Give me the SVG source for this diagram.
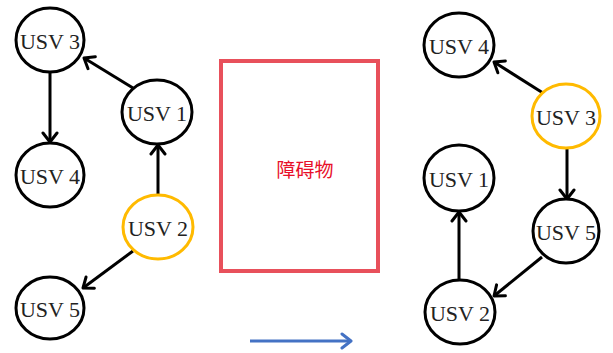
<svg xmlns="http://www.w3.org/2000/svg" width="613" height="353" viewBox="0 0 613 353">
<style>
.n{fill:#fff;stroke:#000;stroke-width:3}
.y{fill:#fff;stroke:#FFBA00;stroke-width:3}
.t{font-family:"Liberation Serif","DejaVu Serif",serif;font-size:22px;fill:#222;text-anchor:middle;dominant-baseline:central}
.e{stroke:#000;stroke-width:3;fill:none;marker-end:url(#ah)}
</style>
<defs>
<marker id="ah" markerUnits="userSpaceOnUse" viewBox="-12 -9 14 18" refX="0" refY="0" markerWidth="14" markerHeight="18" orient="auto">
<path d="M-9,-7 L0,0 L-9,7" fill="none" stroke="#000" stroke-width="3" stroke-linecap="round" stroke-linejoin="round"/>
</marker>
<marker id="bh" markerUnits="userSpaceOnUse" viewBox="-12 -9 14 18" refX="0" refY="0" markerWidth="14" markerHeight="18" orient="auto">
<path d="M-9,-7 L0,0 L-9,7" fill="none" stroke="#4472C4" stroke-width="3" stroke-linecap="round" stroke-linejoin="round"/>
</marker>
</defs>
<rect width="613" height="353" fill="#fff"/>
<g id="connectors">
<line class="e" x1="50" y1="72" x2="50" y2="142"/>
<line class="e" x1="133" y1="88" x2="84" y2="58"/>
<line class="e" x1="158" y1="195" x2="158" y2="145"/>
<line class="e" x1="133" y1="251" x2="83" y2="288"/>
<line class="e" x1="543" y1="93" x2="494" y2="62"/>
<line class="e" x1="567" y1="148" x2="567" y2="199"/>
<line class="e" x1="542" y1="257" x2="494" y2="296"/>
<line class="e" x1="459" y1="280" x2="459" y2="212"/>
<line x1="250" y1="341" x2="351" y2="341" stroke="#4472C4" stroke-width="3" marker-end="url(#bh)"/>
</g>
<g id="obstacle">
<rect x="221" y="61" width="157" height="210" fill="none" stroke="#E8505B" stroke-width="4"/>
<text x="305" y="168" font-family="'Noto Sans CJK SC',sans-serif" font-size="19" fill="#E8102A" text-anchor="middle" dominant-baseline="central">障碍物</text>
</g>
<g id="L-usv3"><ellipse class="n" cx="50" cy="40" rx="34" ry="32"/><text class="t" x="50" y="41">USV 3</text></g>
<g id="L-usv1"><ellipse class="n" cx="157" cy="112" rx="35" ry="32"/><text class="t" x="157" y="113">USV 1</text></g>
<g id="L-usv4"><ellipse class="n" cx="50" cy="175" rx="34" ry="32"/><text class="t" x="50" y="176">USV 4</text></g>
<g id="L-usv2"><ellipse class="y" cx="158" cy="227" rx="35" ry="32"/><text class="t" x="158" y="228">USV 2</text></g>
<g id="L-usv5"><ellipse class="n" cx="50" cy="308" rx="34" ry="31"/><text class="t" x="50" y="309">USV 5</text></g>
<g id="R-usv4"><ellipse class="n" cx="459" cy="45" rx="35" ry="32"/><text class="t" x="459" y="46">USV 4</text></g>
<g id="R-usv3"><ellipse class="y" cx="566" cy="116" rx="34" ry="32"/><text class="t" x="566" y="117">USV 3</text></g>
<g id="R-usv1"><ellipse class="n" cx="459" cy="178" rx="35" ry="33"/><text class="t" x="459" y="179">USV 1</text></g>
<g id="R-usv5"><ellipse class="n" cx="566" cy="231" rx="33" ry="32"/><text class="t" x="566" y="232">USV 5</text></g>
<g id="R-usv2"><ellipse class="n" cx="460" cy="312" rx="35" ry="32"/><text class="t" x="460" y="313">USV 2</text></g>
</svg>
